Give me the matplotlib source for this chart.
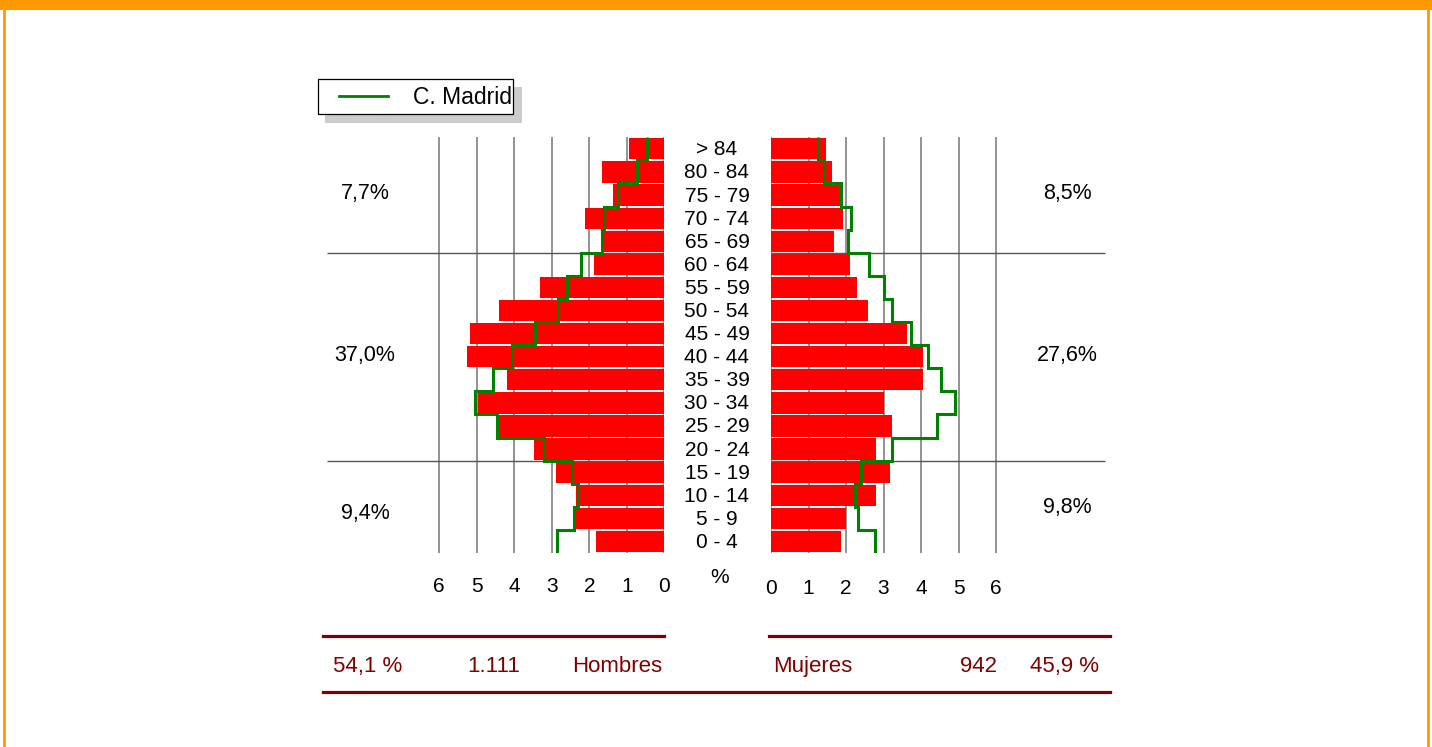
import numpy as np
import matplotlib.pyplot as plt
from matplotlib.patches import Rectangle
from matplotlib.lines import Line2D

plt.rcParams['font.family'] = ['Liberation Sans', 'DejaVu Sans']

ages = ["0 - 4", "5 - 9", "10 - 14", "15 - 19", "20 - 24", "25 - 29", "30 - 34",
        "35 - 39", "40 - 44", "45 - 49", "50 - 54", "55 - 59", "60 - 64",
        "65 - 69", "70 - 74", "75 - 79", "80 - 84", "> 84"]

# % por grupo de edad (de 0-4 a >84)
hombres = [1.82, 2.37, 2.35, 2.89, 3.47, 4.44, 4.97, 4.19, 5.26, 5.18,
           4.41, 3.31, 1.87, 1.63, 2.11, 1.37, 1.66, 0.94]
mujeres = [1.86, 1.99, 2.79, 3.17, 2.79, 3.22, 3.01, 4.05, 4.05, 3.62,
           2.58, 2.29, 2.10, 1.67, 1.91, 1.84, 1.62, 1.46]
madrid_h = [2.86, 2.40, 2.30, 2.46, 3.22, 4.47, 5.04, 4.57, 4.06, 3.44,
            2.84, 2.60, 2.23, 1.66, 1.62, 1.23, 0.74, 0.46]
madrid_m = [2.77, 2.33, 2.25, 2.41, 3.23, 4.42, 4.91, 4.53, 4.18, 3.73,
            3.23, 3.00, 2.61, 2.05, 2.13, 1.86, 1.40, 1.26]

ticks = [0, 1, 2, 3, 4, 5, 6]
pct_h = ["9,4%", "37,0%", "7,7%"]
pct_m = ["9,8%", "27,6%", "8,5%"]
cortes = [3.5, 12.5]

W, H = 1432, 747
fig = plt.figure(figsize=(W / 100, H / 100), dpi=100)


def fx(x):
    return x / W


def fy(y):
    return 1 - y / H


ROJO = "#ff0000"
VERDE = "#008000"
GRANATE = "#800000"
FS = 15

top, bot = 137.3, 553.0
y = np.arange(len(ages))
edges = np.arange(-0.5, len(ages))

ax_h = fig.add_axes([fx(327), fy(bot), fx(664.3) - fx(327), (bot - top) / H])
ax_m = fig.add_axes([fx(771), fy(bot), fx(1108.5) - fx(771), (bot - top) / H])

for ax in (ax_h, ax_m):
    ax.set_ylim(-0.5, len(ages) - 0.5)
    ax.axis("off")
    ax.vlines(ticks, -0.55, len(ages) - 0.45, color="#808080", lw=1.2, zorder=1)

ax_h.set_xlim(9, 0)
ax_m.set_xlim(0, 9)

ax_h.barh(y, hombres, height=0.92, color=ROJO, zorder=2)
ax_m.barh(y, mujeres, height=0.92, color=ROJO, zorder=2)

ax_h.hlines(cortes, 0, 9, color="#555555", lw=1.0, zorder=3)
ax_m.hlines(cortes, 0, 8.9, color="#555555", lw=1.0, zorder=3)

ax_h.stairs(madrid_h, edges, orientation="horizontal", baseline=None,
            color=VERDE, lw=2.2, zorder=4)
ax_m.stairs(madrid_m, edges, orientation="horizontal", baseline=None,
            color=VERDE, lw=2.2, zorder=4)

# etiquetas de edad
for i, a in enumerate(ages):
    yy = bot - (i + 0.5) * (bot - top) / len(ages)
    fig.text(fx(717), fy(yy + 1), a, ha="center", va="center", fontsize=FS)

# ticks
for t in ticks:
    fig.text(fx(664.3 - 37.5 * t), fy(586.5), str(t), ha="center", va="center", fontsize=FS)
    fig.text(fx(771 + 37.5 * t), fy(588.5), str(t), ha="center", va="center", fontsize=FS)
fig.text(fx(720), fy(577.5), "%", ha="center", va="center", fontsize=FS)

# porcentajes por grandes grupos
for yy, a, b, yb in zip([514, 355, 194], pct_h, pct_m, [507, 355, 194]):
    fig.text(fx(365), fy(yy), a, ha="center", va="center", fontsize=15.5)
    fig.text(fx(1067), fy(yb), b, ha="center", va="center", fontsize=15.5)

# leyenda
fig.patches.append(Rectangle((fx(325), fy(122.7)), fx(521.7) - fx(325), (122.7 - 87) / H,
                             transform=fig.transFigure, facecolor="#cccccc", edgecolor="none"))
fig.patches.append(Rectangle((fx(317.5), fy(114.3)), fx(513.3) - fx(317.5), (114.3 - 79.3) / H,
                             transform=fig.transFigure, facecolor="white", edgecolor="black", lw=0.9))
fig.add_artist(Line2D([fx(339), fx(388)], [fy(95.5), fy(95.5)], color=VERDE, lw=2))
fig.text(fx(413), fy(97), "C. Madrid", ha="left", va="center", fontsize=16.5)

# totales
for x0, x1, yy in [(323, 664, 636), (769, 1110, 636), (323, 1110, 692)]:
    fig.add_artist(Line2D([fx(x0), fx(x1)], [fy(yy), fy(yy)], color=GRANATE, lw=2.3))
FB = 16
fig.text(fx(333), fy(666.5), "54,1 %", ha="left", va="center", fontsize=FB, color=GRANATE)
fig.text(fx(520), fy(666.5), "1.111", ha="right", va="center", fontsize=FB, color=GRANATE)
fig.text(fx(572), fy(666.5), "Hombres", ha="left", va="center", fontsize=FB, color=GRANATE)
fig.text(fx(773), fy(666.5), "Mujeres", ha="left", va="center", fontsize=FB, color=GRANATE)
fig.text(fx(997), fy(666.5), "942", ha="right", va="center", fontsize=FB, color=GRANATE)
fig.text(fx(1099), fy(666.5), "45,9 %", ha="right", va="center", fontsize=FB, color=GRANATE)

# marco naranja
NARANJA = "#ff9900"
fig.patches.append(Rectangle((0, fy(10)), 1, 10 / H, transform=fig.transFigure,
                             facecolor=NARANJA, edgecolor="none"))
fig.add_artist(Line2D([fx(3.5), fx(3.5)], [0, 1], color=NARANJA, lw=2))
fig.add_artist(Line2D([fx(1427.5), fx(1427.5)], [0, 1], color=NARANJA, lw=2))

fig.savefig("out.png", dpi=100)
